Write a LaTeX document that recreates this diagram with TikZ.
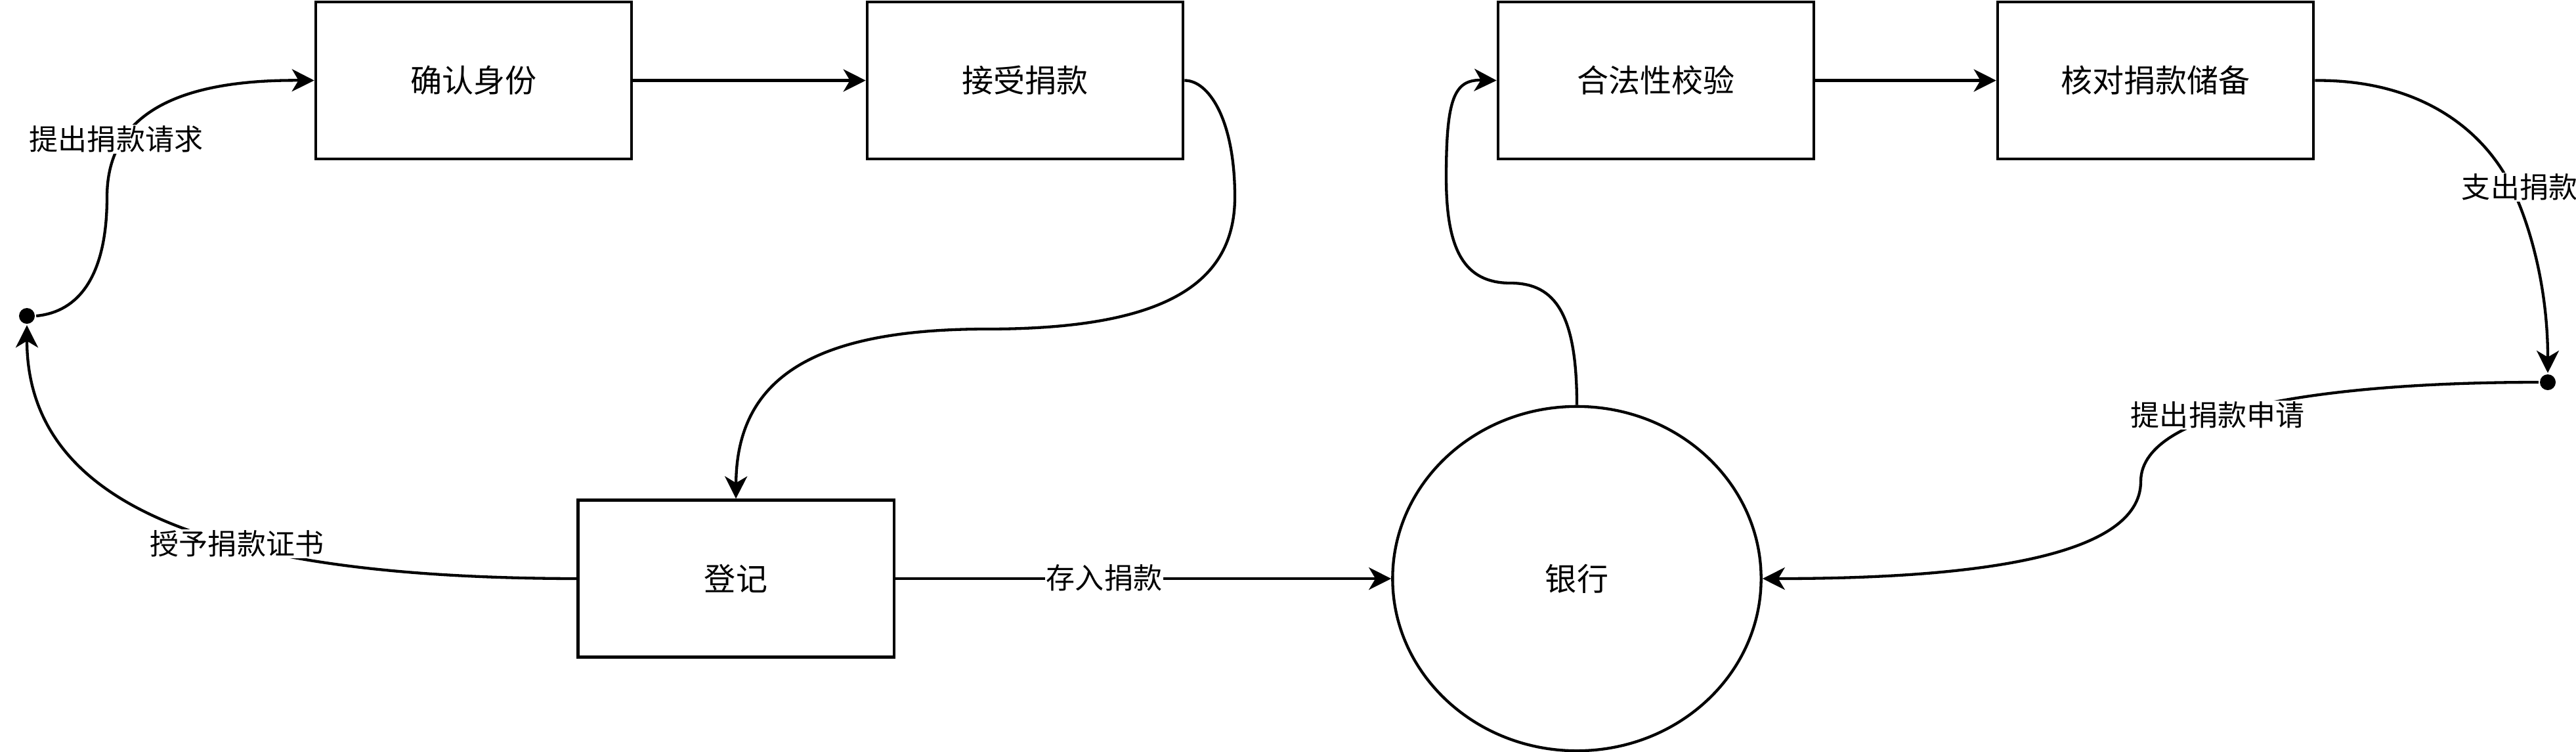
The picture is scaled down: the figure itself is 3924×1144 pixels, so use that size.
\documentclass[tikz,border=0pt]{standalone}
\usepackage{fontspec}
\setmainfont{Noto Sans CJK SC}
\usetikzlibrary{arrows.meta,shapes.geometric}
\begin{document}
\begin{tikzpicture}[x=0.01cm,y=-0.01cm,line width=0.043cm,
  box/.style={draw,rectangle,minimum width=4.81cm,minimum height=2.39cm,inner sep=0pt,font=\fontsize{13.66pt}{16pt}\selectfont},
  bank/.style={draw,ellipse,minimum width=5.61cm,minimum height=5.24cm,inner sep=0pt,font=\fontsize{13.66pt}{16pt}\selectfont},
  dotnode/.style={circle,fill=black,minimum size=0.24cm,inner sep=0pt},
  lbl/.style={fill=white,inner sep=0.02cm,font=\fontsize{12.52pt}{15pt}\selectfont},
  arr/.style={-{Stealth[length=0.34cm,width=0.34cm,inset=0.1cm]}}]
\useasboundingbox (0,0) rectangle (3924,1144);
% nodes
\node[box] (n1) at (721.5,122.5) {确认身份};
\node[box] (n2) at (1561.5,122.5) {接受捐款};
\node[box] (n3) at (2522.5,122.5) {合法性校验};
\node[box] (n4) at (3283.5,122.5) {核对捐款储备};
\node[box] (n5) at (1121,881) {登记};
\node[bank] (bank) at (2402,881) {银行};
\node[dotnode] (dl) at (41,481) {};
\node[dotnode] (dr) at (3881,582) {};
% connectors
\draw[arr] (dl.east) .. controls (120,475) and (163,420) .. (163,300)
  .. controls (163,180) and (260,121) .. (n1.west);
\draw[arr] (n1.east) -- (n2.west);
\draw[arr] (n2.east) .. controls (1840,122) and (1881,180) .. (1881,300)
  .. controls (1881,440) and (1760,501) .. (1503,501)
  .. controls (1240,501) and (1122,575) .. (n5.north);
\draw[arr] (n5.east) -- (bank.west);
\draw[arr] (bank.north) .. controls (2402,480) and (2370,431) .. (2301,431)
  .. controls (2230,431) and (2203,380) .. (2203,270)
  .. controls (2203,150) and (2215,121) .. (n3.west);
\draw[arr] (n3.east) -- (n4.west);
\draw[arr] (n4.east) .. controls (3700,121) and (3790,210) .. (3826,285)
  .. controls (3855,345) and (3881,440) .. (dr.north);
\draw[arr] (dr.west) .. controls (3560,582) and (3261,620) .. (3261,733)
  .. controls (3261,850) and (3000,881) .. (bank.east);
\draw[arr] (n5.west) .. controls (400,880) and (41,800) .. (dl.south);
% labels
\node[lbl] (l1) at (177,212) {提出捐款请求};
\node[lbl] (l2) at (1682,880) {存入捐款};
\node[lbl] (l3) at (3838,285) {支出捐款};
\node[lbl] (l4) at (3378,632) {提出捐款申请};
\node[lbl] (l5) at (361,828) {授予捐款证书};
\end{tikzpicture}
\end{document}
